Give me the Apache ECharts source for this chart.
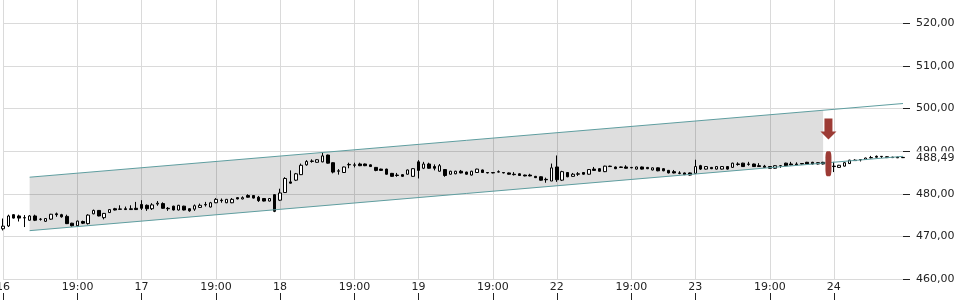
<!DOCTYPE html>
<html><head><meta charset="utf-8">
<script src="https://cdn.jsdelivr.net/npm/echarts@6/dist/echarts.min.js"></script>
<style>html,body{margin:0;padding:0;background:#fff}#c{width:960px;height:300px}</style>
</head><body><div id="c"></div>
<script>
// ---- data ----
const days = ['16','17','18','19','22','23','24'];
const slotsPerDay = 26;
const candleCount = 170;
const tickIndex  = [0, 14, 26, 40, 52, 66, 78, 92, 104, 118, 130, 144, 156];
const tickLabels = ['16','19:00','17','19:00','18','19:00','19','19:00','22','19:00','23','19:00','24'];
const open = [
471.8,472.45,475.1,474.8,474.4,473.8,474.8,474.0,473.55,474.05,475.3,475.1,474.7,473.1,472.5,473.5,473.0,475.3,476.1,474.4,
475.6,476.5,476.35,476.5,476.3,476.6,477.5,477.3,476.5,477.6,477.7,476.6,477.1,476.2,477.1,476.5,476.4,476.8,477.4,476.9,
477.9,478.5,477.9,477.9,479.1,478.8,479.6,479.6,479.2,478.9,478.3,479.8,478.5,480.3,482.8,483.2,484.5,486.8,487.6,487.4,
487.5,489.1,487.3,485.3,485.0,486.8,486.7,487.0,487.0,486.8,486.2,485.8,485.8,484.8,484.4,484.5,484.6,484.1,487.5,486.0,
487.0,486.4,485.3,485.7,484.6,484.7,485.3,485.1,484.4,485.0,485.6,485.0,484.9,485.1,485.0,484.9,484.6,484.7,484.4,484.4,
484.1,484.0,483.4,483.0,486.3,483.2,485.0,484.1,484.6,485.0,484.6,485.8,485.9,485.2,486.5,486.3,486.3,486.3,486.2,485.8,
486.3,486.2,485.6,486.1,485.9,485.5,485.2,484.9,484.9,484.9,484.8,486.6,485.8,486.2,485.8,485.8,486.4,486.2,487.0,487.2,
486.9,487.0,486.6,486.5,486.4,486.0,486.6,487.2,487.0,487.0,487.1,487.4,487.4,487.3,487.4,487.5,486.5,486.2,486.5,487.1,
487.9,488.05,488.05,488.5,488.8,488.8,488.7,488.6,488.6,488.55];
const close = [
472.4,474.8,474.3,474.3,474.35,474.8,473.8,474.05,474.2,475.2,475.1,474.6,473.0,472.5,473.6,473.1,475.0,476.1,474.8,475.4,
476.3,476.2,476.45,476.3,476.5,476.3,476.6,476.5,477.4,477.8,476.6,476.5,476.2,477.3,476.2,476.0,477.2,477.3,477.5,477.9,
478.7,478.4,478.7,478.7,478.8,479.1,479.2,479.0,478.4,478.3,478.9,475.9,480.2,483.6,482.5,484.7,486.7,487.6,487.7,488.0,
488.9,487.2,485.1,485.4,486.3,486.9,486.8,486.6,486.6,486.4,485.5,485.5,484.6,484.1,484.3,484.1,485.6,485.9,485.5,487.0,
486.0,486.0,486.6,484.3,485.3,485.3,484.9,484.6,485.3,485.8,485.0,484.9,485.0,485.2,484.9,484.6,484.5,484.3,484.2,484.2,
483.8,483.2,483.3,486.1,483.3,485.2,484.0,484.6,484.7,484.6,485.7,485.5,485.3,486.5,486.4,485.9,486.2,486.0,486.1,486.3,
485.8,485.9,486.1,485.4,485.4,484.9,484.9,484.8,484.5,484.4,486.4,485.8,486.4,485.9,486.4,486.4,485.8,487.2,486.9,486.4,
487.0,486.4,486.4,486.2,486.0,486.6,486.6,486.6,486.8,486.8,487.0,487.0,487.0,487.0,487.0,487.0,486.4,486.7,487.3,487.9,
487.8,488.0,488.4,488.45,488.6,488.75,488.5,488.5,488.45,488.49];
const low = [
471.4,472.2,474.2,473.5,472.2,473.7,473.6,473.7,473.4,473.9,474.6,474.4,472.9,472.3,472.4,472.9,472.8,475.2,474.7,474.0,
475.5,476.1,476.3,476.2,476.2,476.2,476.2,476.0,476.2,477.2,476.5,476.0,476.1,476.1,476.1,475.8,476.0,476.7,477.0,476.8,
477.8,477.9,477.8,477.8,478.7,478.7,479.1,478.9,478.1,478.2,478.2,475.7,478.3,480.2,482.4,483.0,484.4,486.6,487.3,487.3,
487.4,487.1,484.8,484.5,484.9,486.0,486.2,486.5,486.5,486.3,485.3,485.4,484.5,484.0,484.0,484.0,484.5,484.0,483.6,485.8,
485.9,485.5,485.2,484.0,484.5,484.6,484.8,484.5,484.3,484.9,484.9,484.8,484.8,485.0,484.8,484.5,484.3,484.2,484.1,484.1,
483.7,483.1,482.6,483.0,482.8,483.0,483.9,484.0,484.2,484.5,484.5,485.4,485.2,485.1,486.3,485.8,486.1,485.9,486.0,485.7,
485.7,485.8,485.5,485.3,485.3,484.8,484.8,484.6,484.4,484.3,484.7,485.6,485.7,485.8,485.7,485.7,485.7,486.1,486.6,486.3,
486.6,486.3,486.3,486.1,485.9,485.9,486.1,486.5,486.7,486.7,486.9,486.9,486.9,486.9,486.9,486.9,485.1,486.1,486.4,487.0,
487.7,487.6,488.0,488.3,488.5,488.4,488.4,488.4,488.4,488.4];
const high = [
474.2,475.1,475.2,475.1,475.0,475.0,475.1,474.3,474.3,475.3,475.6,475.3,475.1,473.2,473.7,473.7,475.2,476.3,476.2,475.5,
476.4,476.7,477.3,477.0,477.3,478.1,478.5,477.5,477.8,478.3,478.0,476.9,477.2,477.4,477.2,476.6,477.5,477.7,478.1,478.1,
479.0,478.9,478.8,479.0,479.2,479.4,479.9,479.7,479.5,479.0,479.0,479.9,481.2,483.9,485.5,484.9,487.1,487.9,488.1,488.1,
489.8,489.2,487.4,485.8,486.4,487.3,487.3,487.3,487.1,486.9,486.3,485.9,485.9,484.9,484.9,484.6,485.7,486.0,487.9,487.5,
487.3,486.9,487.0,485.8,485.4,485.4,485.6,485.2,485.4,485.9,485.7,485.1,485.1,485.5,485.1,485.0,485.1,484.8,484.5,484.7,
484.2,484.1,483.8,487.1,489.0,485.4,485.1,484.9,485.1,485.1,485.8,486.3,486.0,486.6,486.6,486.4,486.4,486.7,486.3,486.4,
486.4,486.3,486.2,486.2,486.0,485.6,485.6,485.3,485.0,485.0,488.0,486.8,486.5,486.3,486.5,486.5,486.5,487.3,487.4,487.3,
487.5,487.1,487.2,486.8,486.5,486.7,486.7,487.3,487.5,487.4,487.2,487.5,487.5,487.4,487.5,487.9,487.5,486.8,487.4,488.0,
488.1,488.1,488.5,488.9,489.0,488.85,488.8,488.7,488.7,488.6];
const channelIdx   = [5, 169];
const channelUpper = [483.9, 501.2];
const channelLower = [471.35, 488.8];
const fillIdx   = [5, 154];
const fillUpper = [483.9, 499.6];
const fillLower = [471.35, 487.2];
const lastPrice = 488.49;
const signalIdx = 155;
const arrowValue = 495.2;
const barValue = 487.06;

// ---- build ----
const categories = [];
for (let i = 0; i < candleCount; i++) {
  categories.push(days[Math.floor(i / slotsPerDay)] + ' #' + (i % slotsPerDay));
}
const ohlc = open.map((o, i) => [o, close[i], low[i], high[i]]);
const tickMap = new Map(tickIndex.map((t, k) => [t, tickLabels[k]]));
const isTick = (i) => tickMap.has(i);
const fmt = (v) => v.toFixed(2).replace('.', ',');
const RED = '#9c3b35';

const chart = echarts.init(document.getElementById('c'), null, {renderer: 'canvas'});
chart.setOption({
  animation: false,
  backgroundColor: '#fff',
  textStyle: {fontFamily: 'DejaVu Sans'},
  grid: [
    {left: 3, right: 57, top: -10, bottom: 21, containLabel: false, outerBoundsMode: 'none'},
    {left: 3, right: 57, top: 293, bottom: 0, containLabel: false, outerBoundsMode: 'none'}
  ],
  xAxis: [
    {type: 'category', gridIndex: 0, data: categories, boundaryGap: false,
     axisLine: {show: false}, axisTick: {show: false},
     axisLabel: {interval: (i) => isTick(i), formatter: (v, i) => tickMap.get(i) || '',
                 margin: 3, fontSize: 11, color: '#222', fontFamily: 'DejaVu Sans'},
     splitLine: {show: true, interval: (i) => isTick(i), lineStyle: {color: '#dadada', width: 1}}},
    {type: 'category', gridIndex: 1, data: categories, boundaryGap: false,
     axisLine: {show: false}, axisTick: {show: false}, axisLabel: {show: false},
     splitLine: {show: true, interval: (i) => isTick(i), lineStyle: {color: '#222', width: 1}}}
  ],
  yAxis: [
    {type: 'value', gridIndex: 0, position: 'right', min: 460, max: 527.85, interval: 10,
     axisLine: {show: false},
     axisTick: {show: true, length: 7, lineStyle: {color: '#222'}},
     axisLabel: {margin: 13, fontSize: 11, color: '#222', fontFamily: 'DejaVu Sans', showMaxLabel: false,
                 formatter: (v) => (Math.abs(v % 10) < 1e-6 ? fmt(v) : '')},
     splitLine: {show: true, lineStyle: {color: '#dadada', width: 1}}},
    {type: 'value', gridIndex: 1, show: false}
  ],
  series: [
    {type: 'custom', xAxisIndex: 0, yAxisIndex: 0, silent: true, z: 1,
     data: fillIdx.map((x, k) => [x, fillLower[k], fillUpper[k]]),
     encode: {x: 0, y: [1, 2]},
     renderItem: function (params, api) {
       if (params.dataIndex !== 0) return null;
       const a = api.coord([api.value(0, 0), api.value(1, 0)]);
       const b = api.coord([api.value(0, 0), api.value(2, 0)]);
       const c = api.coord([api.value(0, 1), api.value(2, 1)]);
       const d = api.coord([api.value(0, 1), api.value(1, 1)]);
       return {type: 'polygon', shape: {points: [a, b, c, d]}, style: {fill: 'rgba(0,0,0,0.13)'}};
     }},
    {type: 'line', name: 'upper', xAxisIndex: 0, yAxisIndex: 0, silent: true, symbol: 'none',
     data: channelIdx.map((x, k) => [x, channelUpper[k]]),
     lineStyle: {color: '#5f9ea0', width: 1}},
    {type: 'line', name: 'lower', xAxisIndex: 0, yAxisIndex: 0, silent: true, symbol: 'none',
     data: channelIdx.map((x, k) => [x, channelLower[k]]),
     lineStyle: {color: '#5f9ea0', width: 1}},
    {type: 'candlestick', xAxisIndex: 0, yAxisIndex: 0, data: ohlc, barWidth: 3,
     itemStyle: {color: '#fff', color0: '#000', borderColor: '#000', borderColor0: '#000',
                 borderColorDoji: '#000', borderWidth: 1},
     markLine: {silent: true, symbol: ['none', 'none'], z: 10,
       data: [{yAxis: lastPrice}],
       lineStyle: {color: 'rgba(0,0,0,0)', width: 1, opacity: 1},
       label: {show: true, position: 'end', distance: 13, formatter: fmt(lastPrice), opacity: 1,
               color: '#222', fontSize: 11, fontFamily: 'DejaVu Sans',
               backgroundColor: '#fff', padding: [1, 2, 1, 0]}},
     markPoint: {silent: true, label: {show: false},
       data: [
         {coord: [signalIdx, arrowValue], symbol: 'path://M4,0 L12,0 L12,13 L16,13 L8,21 L0,13 L4,13 Z',
          symbolSize: [16, 21], symbolKeepAspect: false, itemStyle: {color: RED}},
         {coord: [signalIdx, barValue], symbol: 'roundRect', symbolSize: [6, 25], itemStyle: {color: RED}}
       ]}}
  ]
});
</script>
</body></html>
